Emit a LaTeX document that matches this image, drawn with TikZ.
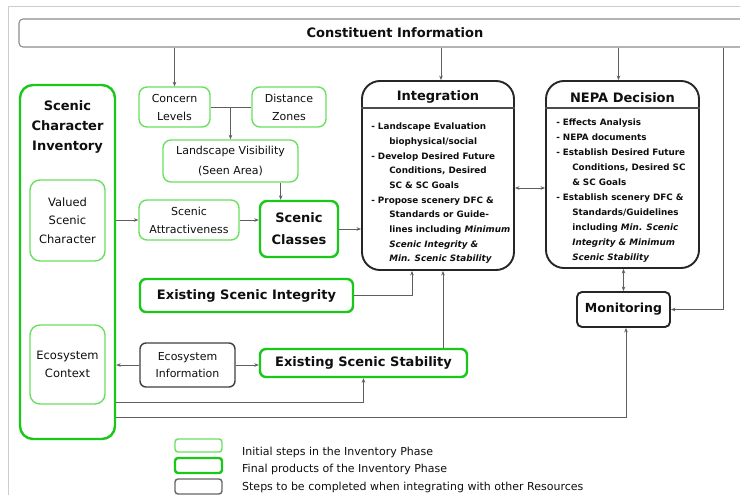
\documentclass[tikz,border=0pt]{standalone}
\usepackage{fontspec}
\setmainfont{DejaVu Sans}
\usetikzlibrary{arrows.meta,calc}
\definecolor{lgreen}{RGB}{105,225,95}
\definecolor{dgreen}{RGB}{25,200,25}
\definecolor{conn}{RGB}{95,95,95}
\definecolor{framec}{RGB}{205,205,205}
\definecolor{txt}{RGB}{15,15,15}
\tikzset{
  base/.style={draw, rectangle, align=center, inner sep=0pt, text=txt},
  initbox/.style={base, draw=lgreen, line width=1.4pt, rounded corners=8pt, font=\fontsize{11}{18}\selectfont},
  finalbox/.style={base, draw=dgreen, line width=2.4pt, rounded corners=7pt, font=\fontsize{13}{22}\selectfont\bfseries},
  otherbox/.style={base, draw=black!75, line width=1.4pt, rounded corners=6pt, font=\fontsize{11}{17}\selectfont},
  bigbox/.style={base, draw=black!85, line width=1.9pt, rounded corners=18pt},
  arr/.style={draw=conn, line width=0.9pt, -{Stealth[length=4.5pt,width=3.6pt]}},
  arrb/.style={draw=conn, line width=0.9pt, {Stealth[length=4.5pt,width=3.6pt]}-{Stealth[length=4.5pt,width=3.6pt]}},
  ln/.style={draw=conn, line width=0.9pt},
  bodytxt/.style={anchor=north west, align=left, inner sep=0pt, text=txt}
}
\begin{document}
\begin{tikzpicture}[x=1pt,y=-1pt]
\clip (0,0) rectangle (740,495);
\fill[white] (0,0) rectangle (740,495);
% screenshot frame
\draw[framec, line width=1pt] (8,495) -- (8,7) -- (740,7);

% top bar
\node[base, draw=black!45, line width=1.1pt, rounded corners=4pt, minimum width=752pt, minimum height=28pt,
      font=\fontsize{13}{16}\selectfont\bfseries] (const) at (395,33) {Constituent Information};

% inventory
\node[base, draw=dgreen, line width=2.4pt, rounded corners=13pt, minimum width=95pt, minimum height=354pt] (inv) at (67.5,262) {};
\node[align=center, inner sep=0pt, text=txt, font=\fontsize{13}{20}\selectfont\bfseries] (invt) at (67.5,127) {Scenic\\Character\\Inventory};
\node[initbox, minimum width=75pt, minimum height=81pt, rounded corners=10pt, font=\fontsize{11.5}{18.5}\selectfont] (valued) at (67.5,220.5) {Valued\\Scenic\\Character};
\node[initbox, minimum width=75pt, minimum height=79pt, rounded corners=10pt, font=\fontsize{11.5}{18}\selectfont] (ecoctx) at (67.5,364.5) {Ecosystem\\Context};

% initial steps
\node[initbox, minimum width=71pt, minimum height=40pt] (concern) at (174.5,107) {Concern\\Levels};
\node[initbox, minimum width=74pt, minimum height=40pt] (distance) at (289,107) {Distance\\Zones};
\node[initbox, minimum width=135pt, minimum height=42pt, font=\fontsize{11}{20}\selectfont] (landvis) at (230.5,161) {Landscape Visibility\\(Seen Area)};
\node[initbox, minimum width=100pt, minimum height=40pt] (attract) at (189,220) {Scenic\\Attractiveness};

% final products
\node[finalbox, minimum width=78pt, minimum height=56pt] (classes) at (299,229) {Scenic\\Classes};
\node[finalbox, minimum width=213pt, minimum height=33pt, rounded corners=6pt] (esi) at (246.5,295.5) {Existing Scenic Integrity};
\node[finalbox, minimum width=207pt, minimum height=28pt, rounded corners=6pt] (ess) at (363.5,363) {Existing Scenic Stability};

% other resources
\node[otherbox, minimum width=95pt, minimum height=44pt] (ecoinfo) at (187.5,365) {Ecosystem\\Information};

% Integration
\node[bigbox, minimum width=152pt, minimum height=189pt] (integ) at (438,175.5) {};
\draw[draw=black!70, line width=1.6pt] ($(integ.north west)+(0,28)$) -- ($(integ.north east)+(0,28)$);
\node[inner sep=0pt, text=txt, font=\fontsize{13}{16}\selectfont\bfseries] (integt) at ($(integ.north)+(0,16.5)$) {Integration};
\node[bodytxt, font=\fontsize{8.8}{14.67}\selectfont\bfseries] (integb) at ($(integ.north west)+(10,43)$)
{- Landscape Evaluation\\
\hspace*{18pt}biophysical/social\\
- Develop Desired Future\\
\hspace*{18pt}Conditions, Desired\\
\hspace*{18pt}SC \& SC Goals\\
- Propose scenery DFC \&\\
\hspace*{18pt}Standards or Guide-\\
\hspace*{18pt}lines including \itshape Minimum\\
\hspace*{18pt}\itshape Scenic Integrity \&\\
\hspace*{18pt}\itshape Min. Scenic Stability};

% NEPA
\node[bigbox, minimum width=153pt, minimum height=187pt] (nepa) at (622.5,174.5) {};
\draw[draw=black!70, line width=1.6pt] ($(nepa.north west)+(0,28)$) -- ($(nepa.north east)+(0,28)$);
\node[inner sep=0pt, text=txt, font=\fontsize{13}{16}\selectfont\bfseries] (nepat) at ($(nepa.north)+(0,17.5)$) {NEPA Decision};
\node[bodytxt, font=\fontsize{8.8}{14.9}\selectfont\bfseries] (nepab) at ($(nepa.north west)+(11,39)$)
{- Effects Analysis\\
- NEPA documents\\
- Establish Desired Future\\
\hspace*{16pt}Conditions, Desired SC\\
\hspace*{16pt}\& SC Goals\\
- Establish scenery DFC \&\\
\hspace*{16pt}Standards/Guidelines\\
\hspace*{16pt}including \itshape Min. Scenic\\
\hspace*{16pt}\itshape Integrity \& Minimum\\
\hspace*{16pt}\itshape Scenic Stability};

% Monitoring
\node[base, draw=black!85, line width=1.9pt, rounded corners=5pt, minimum width=93pt, minimum height=35pt,
      font=\fontsize{12.5}{15}\selectfont\bfseries] (monitor) at (623.5,309.5) {Monitoring};

% connectors
\draw[arr] (concern.north |- const.south) -- (concern.north);
\coordinate (ci) at ($(integ.north)+(3,0)$);
\draw[arr] (ci |- const.south) -- (ci);
\coordinate (cn) at ($(nepa.north)+(-4,0)$);
\draw[arr] (cn |- const.south) -- (cn);
\coordinate (rt) at (723,309.5);
\draw[arr] (rt |- const.south) -- (rt) -- (monitor.east);

\draw[ln] (concern.east) -- (distance.west);
\draw[arr] (concern.east -| landvis.north) -- (landvis.north);
\coordinate (lv) at ($(landvis.south east)+(-18,0)$);
\draw[arr] (lv) -- (lv |- classes.north);
\draw[arr] (inv.east |- attract.west) -- (attract.west);
\draw[arr] (attract.east) -- (classes.west |- attract.east);
\draw[arr] (classes.east) -- (integ.west |- classes.east);
\coordinate (ie) at ($(integ.east)+(0,12.5)$);
\draw[arrb] (ie) -- (ie -| nepa.west);
\coordinate (ig1) at ($(integ.south)+(-26,0)$);
\draw[arr] (esi.east) -| (ig1);
\coordinate (ig2) at ($(integ.south)+(5,0)$);
\draw[arr] (ess.north -| ig2) -- (ig2);
\draw[arr] (ecoinfo.west) -- (inv.east |- ecoinfo.west);
\draw[arr] (ecoinfo.east) -- (ess.west |- ecoinfo.east);
\coordinate (b1) at ($(inv.east)+(0,140)$);
\draw[arr] (b1) -| (ess.south);
\coordinate (b2) at ($(inv.east)+(0,155)$);
\coordinate (mb) at ($(monitor.south)+(2.5,0)$);
\draw[arr] (b2) -| (mb);
\draw[arrb] (monitor.north |- nepa.south) -- (monitor.north);

% legend
\node[base, draw=lgreen, line width=1.4pt, rounded corners=3pt, minimum width=47pt, minimum height=13pt] (leg1) at (198.5,445.5) {};
\node[base, draw=dgreen, line width=2.4pt, rounded corners=3pt, minimum width=47pt, minimum height=15pt] (leg2) at (198.5,465.5) {};
\node[base, draw=black!60, line width=1.4pt, rounded corners=3pt, minimum width=47pt, minimum height=15pt] (leg3) at (198.5,486.5) {};
\node[anchor=base west, inner sep=0pt, text=txt, font=\fontsize{11}{13}\selectfont] (lt1) at (242,455) {Initial steps in the Inventory Phase};
\node[anchor=base west, inner sep=0pt, text=txt, font=\fontsize{11}{13}\selectfont] (lt2) at (242,472) {Final products of the Inventory Phase};
\node[anchor=base west, inner sep=0pt, text=txt, font=\fontsize{11}{13}\selectfont] (lt3) at (242,490) {Steps to be completed when integrating with other Resources};
\end{tikzpicture}
\end{document}
